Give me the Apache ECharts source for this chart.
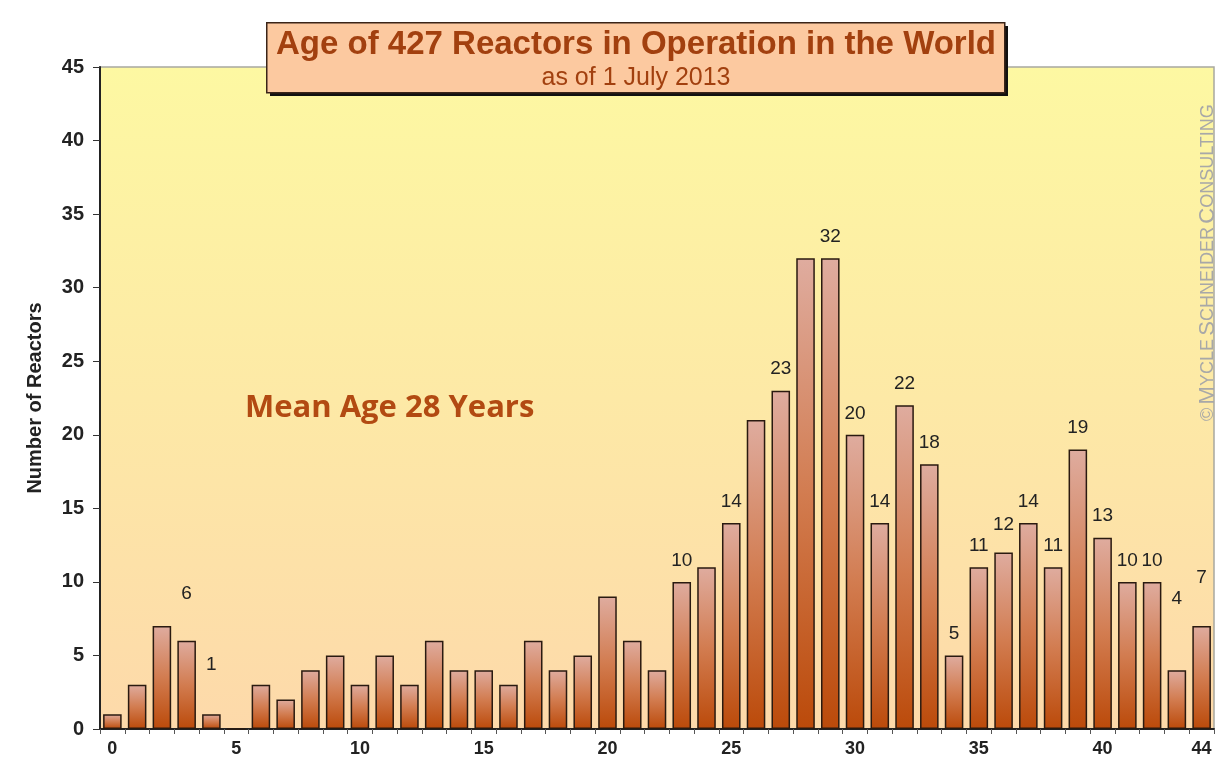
<!DOCTYPE html>
<html>
<head>
<meta charset="utf-8">
<title>Age of 427 Reactors in Operation in the World</title>
<script src="https://cdn.jsdelivr.net/npm/echarts@6/dist/echarts.min.js"></script>
<style>
    html, body { margin: 0; padding: 0; background: #ffffff; }
    #chart { width: 1224px; height: 774px; }
</style>
</head>
<body>
<div id="chart"></div>
<script>
// 反应堆年龄 (0 - 44 年)
const ages = Array.from({ length: 45 }, (_, i) => String(i));

// 每个年龄的反应堆数量
const reactorCounts = [
    1, 3, 7, 6, 1, 0, 3, 2, 4, 5,
    3, 5, 3, 6, 4, 4, 3, 6, 4, 5,
    9, 6, 4, 10, 11, 14, 21, 23, 32, 32,
    20, 14, 22, 18, 5, 11, 12, 14, 11, 19,
    13, 10, 10, 4, 7
];

// 显示数值标签的柱子
const labeledAges = [3, 4, 23, 25, 27, 29, 30, 31, 32, 33, 34, 35, 36, 37, 38, 39, 40, 41, 42, 43, 44];

// x 轴上显示的刻度标签
const xTickLabels = ['0', '5', '10', '15', '20', '25', '30', '35', '40', '44'];

// 标签额外上移 (原图中手动摆放的标签)
const labelLift = { 3: 25, 4: 28, 36: 6, 43: 50, 44: 27 };

const chart = echarts.init(document.getElementById('chart'));

const barData = reactorCounts.map((v, i) => ({
    value: v,
    label: {
        show: labeledAges.includes(i),
        offset: [0, -(labelLift[i] || 0)]
    }
}));

const sans = 'Liberation Sans, Arial, sans-serif';

const option = {
    animation: false,
    backgroundColor: '#ffffff',
    grid: {
        left: 100,
        right: 10,
        top: 67,
        bottom: 45,
        show: true,
        borderColor: '#a8a8a0',
        borderWidth: 1.5,
        backgroundColor: new echarts.graphic.LinearGradient(0, 0, 0, 1, [
            { offset: 0, color: '#fdf8a2' },
            { offset: 0.5, color: '#fde9a6' },
            { offset: 1, color: '#fdd9aa' }
        ])
    },
    xAxis: {
        type: 'category',
        data: ages,
        axisLine: { lineStyle: { color: '#222', width: 2 } },
        axisTick: { show: true, length: 5, lineStyle: { color: '#555' } },
        axisLabel: {
            interval: 0,
            margin: 11,
            color: '#222',
            fontFamily: sans,
            fontWeight: 'bold',
            fontSize: 18,
            formatter: v => (xTickLabels.includes(v) ? v : '')
        },
        splitLine: { show: false }
    },
    yAxis: {
        type: 'value',
        min: 0,
        max: 45,
        interval: 5,
        name: 'Number of Reactors',
        nameLocation: 'middle',
        nameGap: 55,
        nameRotate: 90,
        nameTextStyle: {
            color: '#222',
            fontFamily: sans,
            fontWeight: 'bold',
            fontSize: 20
        },
        axisLine: { show: true, lineStyle: { color: '#222', width: 2 } },
        axisTick: { show: true, length: 7, lineStyle: { color: '#333' } },
        axisLabel: {
            margin: 16,
            color: '#222',
            fontFamily: sans,
            fontWeight: 'bold',
            fontSize: 20
        },
        splitLine: { show: false }
    },
    series: [
        {
            type: 'bar',
            data: barData,
            barCategoryGap: '25%',
            itemStyle: {
                color: new echarts.graphic.LinearGradient(0, 0, 0, 1, [
                    { offset: 0, color: '#dfac9f' },
                    { offset: 0.5, color: '#d27c50' },
                    { offset: 1, color: '#bb4a0a' }
                ]),
                borderColor: '#2a1a10',
                borderWidth: 1.5
            },
            label: {
                position: 'top',
                distance: 12,
                color: '#222',
                fontFamily: sans,
                fontSize: 19
            }
        }
    ],
    graphic: [
        // 标题框阴影
        {
            type: 'rect',
            left: 270,
            top: 26,
            shape: { width: 738, height: 70 },
            style: { fill: '#111' },
            z: 10
        },
        // 标题框
        {
            type: 'rect',
            left: 266,
            top: 22,
            shape: { width: 738, height: 70 },
            style: {
                fill: '#fcc9a0',
                stroke: '#3a2418',
                lineWidth: 1.5
            },
            z: 10
        },
        {
            type: 'text',
            x: 636,
            y: 45,
            style: {
                text: 'Age of 427 Reactors in Operation in the World',
                fill: '#a2400f',
                font: 'bold 33px "Liberation Sans", Arial, sans-serif',
                align: 'center',
                verticalAlign: 'middle'
            },
            z: 11
        },
        {
            type: 'text',
            x: 636,
            y: 78,
            style: {
                text: 'as of 1 July 2013',
                fill: '#a2400f',
                font: '25px "Liberation Sans", Arial, sans-serif',
                align: 'center',
                verticalAlign: 'middle'
            },
            z: 11
        },
        // 平均年龄说明
        {
            type: 'text',
            x: 245,
            y: 408,
            style: {
                text: 'Mean Age 28 Years',
                fill: '#b24a12',
                font: 'bold 31px "Open Sans", sans-serif',
                verticalAlign: 'middle'
            },
            z: 11
        },
        // 版权水印
        {
            type: 'text',
            x: 1208,
            y: 421,
            rotation: Math.PI / 2,
            style: {
                text: '{s|©} {b|M}{s|YCLE} {b|S}{s|CHNEIDER} {b|C}{s|ONSULTING}',
                fill: '#a0a0a0',
                verticalAlign: 'middle',
                rich: {
                    b: { fontSize: 22, fill: '#a8a8a8', fontFamily: sans },
                    s: { fontSize: 18, fill: '#a8a8a8', fontFamily: sans }
                }
            },
            z: 11
        }
    ]
};

chart.setOption(option);
</script>
</body>
</html>
